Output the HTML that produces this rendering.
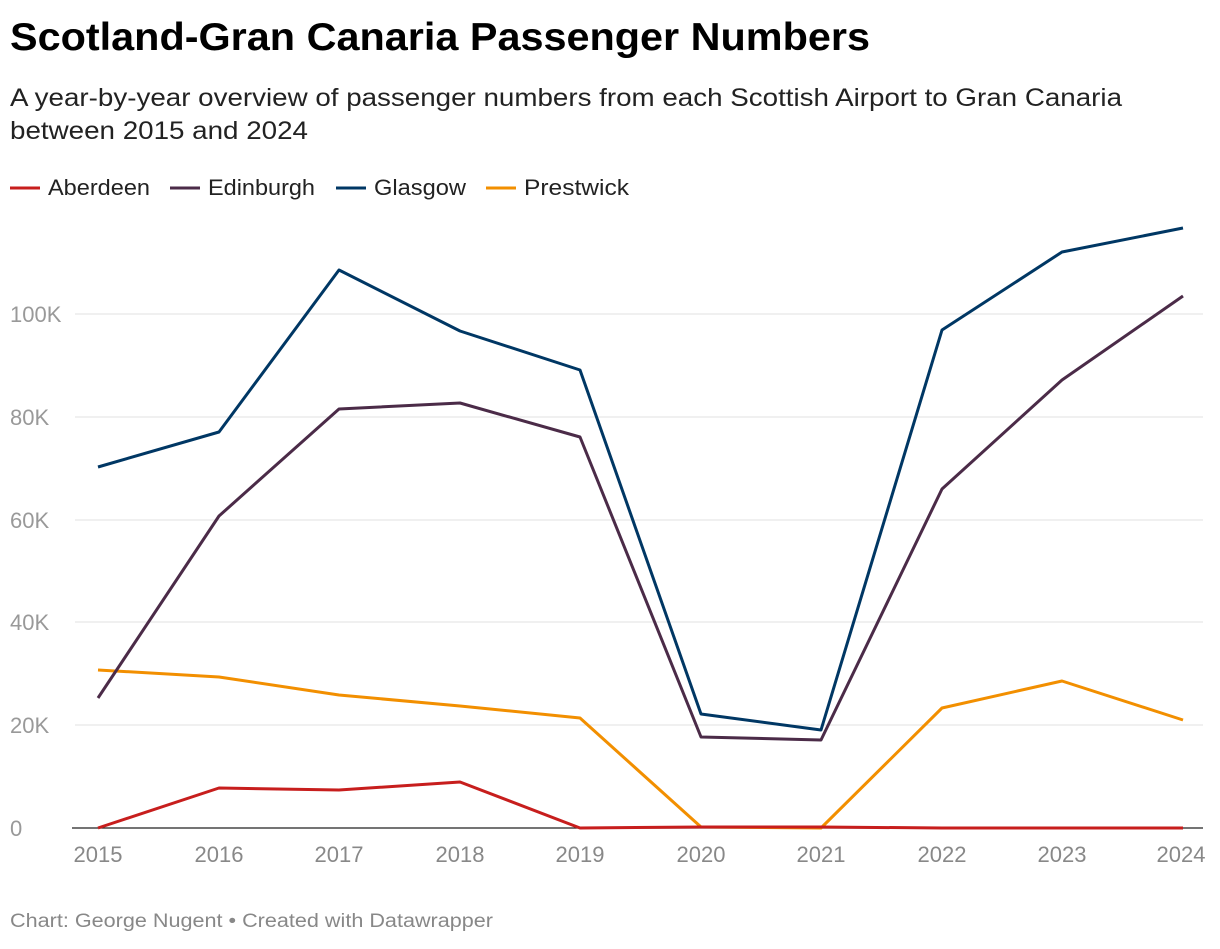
<!DOCTYPE html>
<html><head><meta charset="utf-8"><style>
body{margin:0;background:#fff;width:1220px;height:944px;overflow:hidden;font-family:"Liberation Sans",sans-serif;}
svg text{font-family:"Liberation Sans",sans-serif;}
</style></head><body>
<svg width="1220" height="944" xmlns="http://www.w3.org/2000/svg">
<text x="10" y="50" font-size="39" font-weight="bold" fill="#000" textLength="860" lengthAdjust="spacingAndGlyphs">Scotland-Gran Canaria Passenger Numbers</text>
<text x="10" y="106" font-size="25" fill="#222" textLength="1112" lengthAdjust="spacingAndGlyphs">A year-by-year overview of passenger numbers from each Scottish Airport to Gran Canaria</text>
<text x="10" y="139" font-size="25" fill="#222" textLength="298" lengthAdjust="spacingAndGlyphs">between 2015 and 2024</text>
<g font-size="22" fill="#222">
<line x1="10" y1="188" x2="40" y2="188" stroke="#c71e1d" stroke-width="3"/><text x="48" y="195" textLength="102" lengthAdjust="spacingAndGlyphs">Aberdeen</text>
<line x1="170" y1="188" x2="200" y2="188" stroke="#4b2b48" stroke-width="3"/><text x="208" y="195" textLength="107" lengthAdjust="spacingAndGlyphs">Edinburgh</text>
<line x1="336" y1="188" x2="366" y2="188" stroke="#003764" stroke-width="3"/><text x="374" y="195" textLength="92" lengthAdjust="spacingAndGlyphs">Glasgow</text>
<line x1="486" y1="188" x2="516" y2="188" stroke="#f28f00" stroke-width="3"/><text x="524" y="195" textLength="105" lengthAdjust="spacingAndGlyphs">Prestwick</text>
</g>
<g stroke="#e0e0e0" stroke-width="1">
<line x1="75" y1="314" x2="1203" y2="314"/><line x1="75" y1="417" x2="1203" y2="417"/><line x1="75" y1="520" x2="1203" y2="520"/><line x1="75" y1="622" x2="1203" y2="622"/><line x1="75" y1="725" x2="1203" y2="725"/>
</g>
<line x1="72" y1="828" x2="1203" y2="828" stroke="#222" stroke-width="1.3"/>
<g font-size="22" fill="#999">
<text x="10" y="322">100K</text><text x="10" y="425">80K</text><text x="10" y="528">60K</text><text x="10" y="630">40K</text><text x="10" y="733">20K</text><text x="10" y="836">0</text>
</g>
<g font-size="22" fill="#888" text-anchor="middle">
<text x="98" y="862">2015</text><text x="219" y="862">2016</text><text x="339" y="862">2017</text><text x="460" y="862">2018</text><text x="580" y="862">2019</text><text x="701" y="862">2020</text><text x="821" y="862">2021</text><text x="942" y="862">2022</text><text x="1062" y="862">2023</text><text x="1181" y="862">2024</text>
</g>
<g fill="none" stroke-width="3" stroke-linejoin="round">
<polyline stroke="#f28f00" points="98,670 219,677 339,695 460,706 580,718 701,827 821,828 942,708 1062,681 1183,720"/>
<polyline stroke="#c71e1d" points="98,828 219,788 339,790 460,782 580,828 701,827 821,827 942,828 1062,828 1183,828"/>
<polyline stroke="#4b2b48" points="98,698 219,516 339,409 460,403 580,437 701,737 821,740 942,489 1062,380 1183,296"/>
<polyline stroke="#003764" points="98,467 219,432 339,270 460,331 580,370 701,714 821,730 942,330 1062,252 1183,228"/>
</g>
<text x="10" y="927" font-size="19" fill="#888" textLength="483" lengthAdjust="spacingAndGlyphs">Chart: George Nugent • Created with Datawrapper</text>
</svg>
</body></html>
